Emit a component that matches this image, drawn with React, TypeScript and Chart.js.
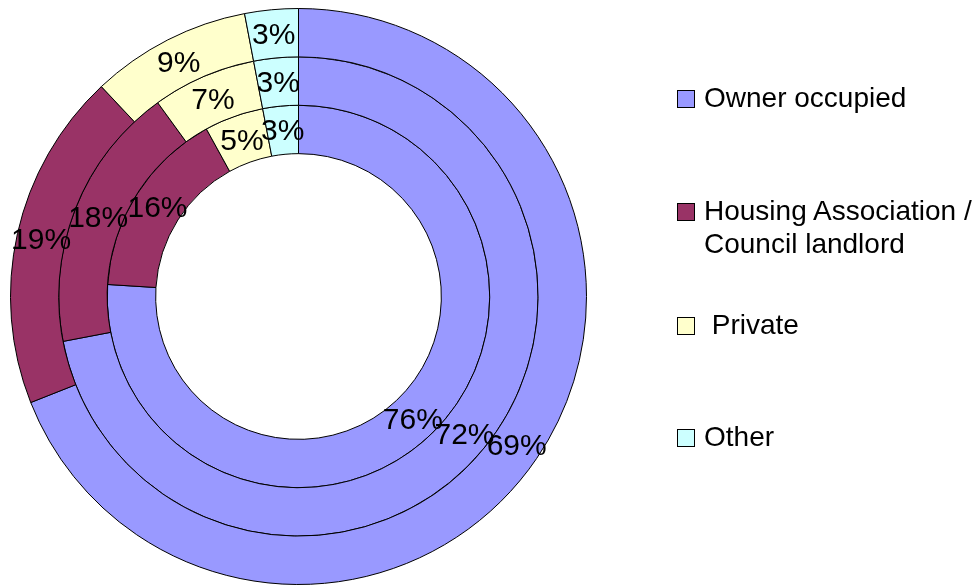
import React, { useEffect, useRef } from "react";
import { Chart, registerables } from "chart.js";

Chart.register(...registerables);

const categories = ["Owner occupied", "Housing Association / Council landlord", "Private", "Other"];
const outerRing = [69, 19, 9, 3];
const middleRing = [72, 18, 7, 3];
const innerRing = [76, 16, 5, 3];
const colors = ["#9999FF", "#993366", "#FFFFCC", "#CCFFFF"];
const legendLines = [["Owner occupied"], ["Housing Association /", "Council landlord"], [" Private"], ["Other"]];
const legendTops = [89, 202, 316, 428];

const labelPlugin = {
  id: "ringLabels",
  afterDatasetsDraw(chart: any) {
    const ctx = chart.ctx;
    ctx.save();
    ctx.font = "30px 'Liberation Sans', Arial, sans-serif";
    ctx.fillStyle = "#000";
    ctx.textAlign = "center";
    ctx.textBaseline = "middle";
    chart.data.datasets.forEach((ds: any, di: number) => {
      const meta = chart.getDatasetMeta(di);
      meta.data.forEach((arc: any, i: number) => {
        const p = arc.tooltipPosition(true);
        ctx.fillText(ds.data[i] + "%", p.x, p.y + 2);
      });
    });
    ctx.restore();
  },
};

export default function App() {
  const ref = useRef<HTMLCanvasElement | null>(null);
  useEffect(() => {
    if (!ref.current) return;
    const mk = (data: number[]) => ({
      data,
      backgroundColor: colors,
      borderColor: "#000",
      borderWidth: 1,
      hoverOffset: 0,
    });
    const chart = new Chart(ref.current, {
      type: "doughnut",
      data: {
        labels: categories,
        datasets: [mk(outerRing), mk(middleRing), mk(innerRing)],
      },
      options: {
        responsive: false,
        animation: false,
        cutout: "49.6%",
        layout: { padding: { left: 10, top: 8, right: 390, bottom: 1 } },
        plugins: { legend: { display: false }, tooltip: { enabled: false } },
      },
      plugins: [labelPlugin],
    });
    return () => chart.destroy();
  }, []);

  return (
    <div style={{ position: "absolute", left: 0, top: 0, width: 977, height: 586, background: "#fff" }}>
      <canvas ref={ref} width={977} height={586} style={{ position: "absolute", left: 0, top: 0 }} />
      {categories.map((c, i) => (
        <div key={c} style={{ position: "absolute", left: 677, top: legendTops[i] }}>
          <div
            style={{
              position: "absolute",
              left: 0,
              top: 1,
              width: 16,
              height: 16,
              background: colors[i],
              border: "1px solid #000",
            }}
          />
          <div
            style={{
              position: "absolute",
              left: 27,
              top: -8,
              whiteSpace: "pre",
              fontFamily: "'Liberation Sans', Arial, sans-serif",
              fontSize: 28,
              lineHeight: "33px",
              color: "#000",
            }}
          >
            {legendLines[i].map((l, k) => (
              <div key={k}>{l}</div>
            ))}
          </div>
        </div>
      ))}
    </div>
  );
}
